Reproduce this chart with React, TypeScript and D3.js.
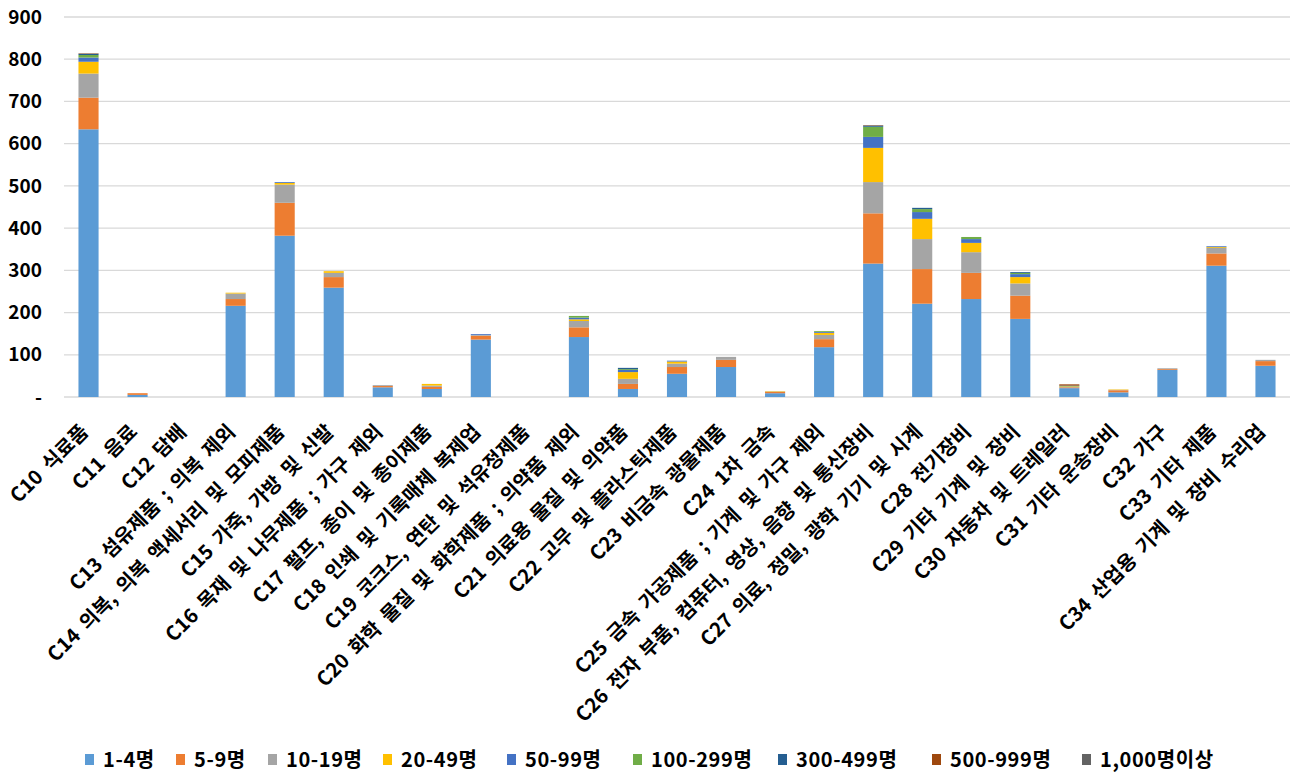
import React from "react";
import * as d3 from "d3";

const categories = [
  "C10 식료품",
  "C11 음료",
  "C12 담배",
  "C13 섬유제품 ; 의복 제외",
  "C14 의복, 의복 액세서리 및 모피제품",
  "C15 가죽, 가방 및 신발",
  "C16 목재 및 나무제품 ; 가구 제외",
  "C17 펄프, 종이 및 종이제품",
  "C18 인쇄 및 기록매체 복제업",
  "C19 코크스, 연탄 및 석유정제품",
  "C20 화학 물질 및 화학제품 ; 의약품 제외",
  "C21 의료용 물질 및 의약품",
  "C22 고무 및 플라스틱제품",
  "C23 비금속 광물제품",
  "C24 1차 금속",
  "C25 금속 가공제품 ; 기계 및 가구 제외",
  "C26 전자 부품, 컴퓨터, 영상, 음향 및 통신장비",
  "C27 의료, 정밀, 광학 기기 및 시계",
  "C28 전기장비",
  "C29 기타 기계 및 장비",
  "C30 자동차 및 트레일러",
  "C31 기타 운송장비",
  "C32 가구",
  "C33 기타 제품",
  "C34 산업용 기계 및 장비 수리업",
];

const seriesNames = ["1-4명", "5-9명", "10-19명", "20-49명", "50-99명", "100-299명", "300-499명", "500-999명", "1,000명이상"];
const seriesColors = ["#5B9BD5", "#ED7D31", "#A5A5A5", "#FFC000", "#4472C4", "#70AD47", "#255E91", "#9E480E", "#636363"];

const s1to4 = [634, 5, 0, 216, 382, 259, 23, 19, 136, 0, 142, 19, 55, 71, 9, 118, 316, 221, 232, 185, 21, 11, 64, 311, 74];
const s5to9 = [75, 4, 0, 16, 78, 25, 3, 5, 9, 0, 23, 12, 16, 17, 3, 19, 119, 82, 62, 55, 2, 5, 2, 29, 11];
const s10to19 = [57, 0, 0, 13, 43, 10, 2, 3, 2, 0, 15, 12, 8, 7, 1, 10, 74, 71, 49, 29, 1, 1, 2, 13, 3];
const s20to49 = [28, 0, 0, 2, 4, 4, 0, 4, 0, 0, 4, 16, 5, 0, 1, 5, 81, 48, 22, 15, 1, 1, 0, 2, 0];
const s50to99 = [10, 0, 0, 0, 2, 0, 0, 0, 2, 0, 4, 5, 2, 0, 0, 2, 26, 16, 9, 7, 0, 0, 0, 2, 0];
const s100to299 = [6, 0, 0, 0, 0, 0, 0, 0, 0, 0, 4, 2, 0, 0, 0, 2, 24, 7, 5, 3, 1, 0, 0, 0, 0];
const s300to499 = [3, 0, 0, 0, 0, 0, 0, 0, 0, 0, 0, 3, 0, 0, 0, 0, 3, 3, 0, 2, 1, 0, 0, 0, 0];
const s500to999 = [1, 0, 0, 0, 0, 0, 0, 0, 0, 0, 0, 0, 0, 0, 0, 0, 1, 0, 0, 0, 3, 0, 0, 0, 0];
const s1000plus = [0, 0, 0, 0, 0, 0, 0, 0, 0, 0, 0, 0, 0, 0, 0, 0, 0, 0, 0, 0, 0, 0, 0, 0, 0];

const seriesValues = [s1to4, s5to9, s10to19, s20to49, s50to99, s100to299, s300to499, s500to999, s1000plus];

const yTicks = [0, 100, 200, 300, 400, 500, 600, 700, 800, 900];
const yTickLabels = ["-", "100", "200", "300", "400", "500", "600", "700", "800", "900"];

const legendX = [85, 176, 268, 383, 507, 633, 778, 932, 1082];

const W = 1300;
const H = 784;
const FONT = "'Noto Sans CJK KR', 'Noto Sans', sans-serif";

export default function App() {
  const x = d3.scaleBand<string>().domain(categories).range([64, 1290]).paddingInner(0.59).paddingOuter(0.295);
  const y = d3.scaleLinear().domain([0, 900]).range([397, 17]);

  const table = categories.map((c, i) => {
    const row: Record<string, any> = { cat: c };
    seriesNames.forEach((s, k) => (row[s] = seriesValues[k][i]));
    return row;
  });
  const stacked = d3.stack<any>().keys(seriesNames)(table);

  return (
    <svg width={W} height={H} style={{ position: "absolute", left: 0, top: 0, background: "#fff" }} fontFamily={FONT}>
      <rect x={0} y={0} width={W} height={H} fill="#fff" />
      {yTicks.map((t, i) => (
        <g key={t}>
          <line x1={64} x2={1290} y1={y(t)} y2={y(t)} stroke="#d9d9d9" strokeWidth={1.3} />
          <text x={42} y={y(t)} dy="0.35em" textAnchor="end" fontSize={19} fontWeight="bold" fill="#000">
            {yTickLabels[i]}
          </text>
        </g>
      ))}
      {stacked.map((layer, k) => (
        <g key={layer.key} fill={seriesColors[k]}>
          {layer.map((d, i) => {
            const h = y(d[0]) - y(d[1]);
            if (h <= 0) return null;
            return <rect key={i} x={x(categories[i])} y={y(d[1])} width={x.bandwidth()} height={h} />;
          })}
        </g>
      ))}
      {categories.map((c) => {
        const cx = (x(c) as number) + x.bandwidth() / 2;
        return (
          <text
            key={c}
            transform={`translate(${cx + 1},${433}) rotate(-45)`}
            textAnchor="end"
            fontSize={20}
            fontWeight="bold"
            wordSpacing={4}
            fill="#000"
          >
            {c}
          </text>
        );
      })}
      {seriesNames.map((s, k) => (
        <g key={s}>
          <rect x={legendX[k]} y={754} width={9} height={11} fill={seriesColors[k]} />
          <text x={legendX[k] + 18} y={760} dy="0.35em" fontSize={20} fontWeight="bold" letterSpacing={0.6} fill="#000">
            {s}
          </text>
        </g>
      ))}
    </svg>
  );
}
